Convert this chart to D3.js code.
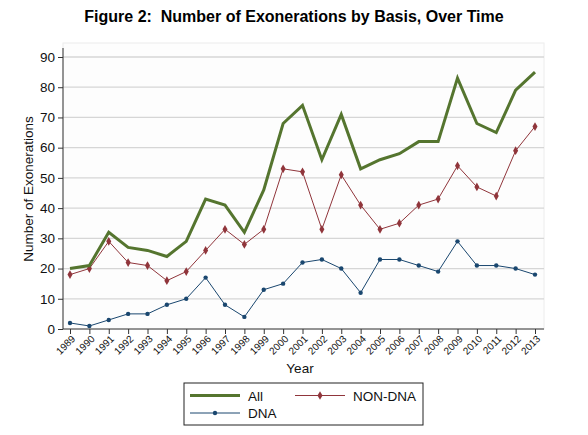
<!DOCTYPE html>
<html>
<head>
<meta charset="utf-8">
<script src="https://cdn.jsdelivr.net/npm/d3@7"></script>
<style>
  body { margin: 0; background: #fff; }
  svg { font-family: "Liberation Sans", Arial, sans-serif; }
</style>
</head>
<body>
<svg id="svg" width="588" height="435"></svg>
<script>
const years = d3.range(1989, 2014);
const allValues = [20, 21, 32, 27, 26, 24, 29, 43, 41, 32, 46, 68, 74, 56, 71, 53, 56, 58, 62, 62, 83, 68, 65, 79, 85];
const nonDnaValues = [18, 20, 29, 22, 21, 16, 19, 26, 33, 28, 33, 53, 52, 33, 51, 41, 33, 35, 41, 43, 54, 47, 44, 59, 67];
const dnaValues = [2, 1, 3, 5, 5, 8, 10, 17, 8, 4, 13, 15, 22, 23, 20, 12, 23, 23, 21, 19, 29, 21, 21, 20, 18];
const yTicks = [0, 10, 20, 30, 40, 50, 60, 70, 80, 90];

const svg = d3.select("#svg");

const plotLeft = 63, plotRight = 544, plotTop = 48, plotBottom = 329;

const xScale = d3.scaleLinear().domain([1989, 2013]).range([70, 535]);
const yScale = d3.scaleLinear().domain([0, 90]).range([329, 57]);

// plot region outline
svg.append("rect")
  .attr("x", plotLeft).attr("y", 43)
  .attr("width", plotRight - plotLeft).attr("height", plotBottom - 43)
  .attr("fill", "#fdfdfd").attr("stroke", "#ececec");

// grid lines
svg.append("g")
  .selectAll("line")
  .data(yTicks.filter(d => d > 0))
  .enter()
  .append("line")
  .attr("x1", plotLeft).attr("x2", plotRight)
  .attr("y1", yScale).attr("y2", yScale)
  .attr("stroke", "#d6d6d6").attr("stroke-width", 1.3);

// y axis
const yAxis = d3.axisLeft(yScale).tickValues(yTicks).tickSize(5).tickPadding(3);
const gy = svg.append("g").attr("transform", `translate(${plotLeft},0)`).call(yAxis);
gy.select(".domain").attr("d", `M0,${plotTop}V${plotBottom}`).attr("stroke", "#333");
gy.selectAll(".tick line").attr("stroke", "#333");
gy.selectAll("text").attr("font-size", 13.5).attr("fill", "#111");

// x axis
const xAxis = d3.axisBottom(xScale).tickValues(years).tickFormat(d3.format("d")).tickSize(5);
const gx = svg.append("g").attr("transform", `translate(0,${plotBottom})`).call(xAxis);
gx.select(".domain").attr("d", `M${plotLeft},0H${plotRight}`).attr("stroke", "#333");
gx.selectAll(".tick line").attr("stroke", "#333");
gx.selectAll("text")
  .attr("font-size", 10)
  .attr("fill", "#111")
  .attr("text-anchor", "end")
  .attr("dy", "0.35em")
  .attr("y", 0)
  .attr("transform", "translate(3,8) rotate(-45)");

// axis titles
svg.append("text")
  .attr("x", 300).attr("y", 373)
  .attr("text-anchor", "middle")
  .attr("font-size", 13.5).attr("fill", "#111")
  .text("Year");

svg.append("text")
  .attr("transform", "translate(33,189) rotate(-90)")
  .attr("text-anchor", "middle")
  .attr("font-size", 13.5).attr("fill", "#111")
  .text("Number of Exonerations");

// title
svg.append("text")
  .attr("x", 294).attr("y", 22)
  .attr("text-anchor", "middle")
  .attr("font-size", 16).attr("font-weight", "bold").attr("fill", "#000")
  .style("white-space", "pre")
  .text("Figure 2:  Number of Exonerations by Basis, Over Time");

const line = d3.line().x((d, i) => xScale(years[i])).y(d => yScale(d));

const green = "#55752f", maroon = "#90353b", navy = "#1a476f";

svg.append("path").datum(dnaValues)
  .attr("d", line).attr("fill", "none").attr("stroke", navy).attr("stroke-width", 1);
svg.append("g").selectAll("circle").data(dnaValues).enter().append("circle")
  .attr("cx", (d, i) => xScale(years[i])).attr("cy", yScale).attr("r", 2.2).attr("fill", navy);

svg.append("path").datum(nonDnaValues)
  .attr("d", line).attr("fill", "none").attr("stroke", maroon).attr("stroke-width", 1);
const diamond = d3.symbol().type(d3.symbolDiamond).size(22);
svg.append("g").selectAll("path").data(nonDnaValues).enter().append("path")
  .attr("d", diamond)
  .attr("transform", (d, i) => `translate(${xScale(years[i])},${yScale(d)})`)
  .attr("fill", maroon);

svg.append("path").datum(allValues)
  .attr("d", line).attr("fill", "none").attr("stroke", green).attr("stroke-width", 3)
  .attr("stroke-linejoin", "miter");

// legend
const lg = svg.append("g");
lg.append("rect").attr("x", 184).attr("y", 383).attr("width", 239).attr("height", 42)
  .attr("fill", "#fff").attr("stroke", "#222").attr("stroke-width", 1);

const legendItems = [
  { name: "All", color: green, width: 3, marker: null, x: 190, y: 395.5 },
  { name: "NON-DNA", color: maroon, width: 1, marker: "diamond", x: 295, y: 395.5 },
  { name: "DNA", color: navy, width: 1, marker: "circle", x: 190, y: 413 }
];
legendItems.forEach(it => {
  lg.append("line").attr("x1", it.x).attr("x2", it.x + 50).attr("y1", it.y).attr("y2", it.y)
    .attr("stroke", it.color).attr("stroke-width", it.width);
  if (it.marker === "diamond") {
    lg.append("path").attr("d", diamond).attr("transform", `translate(${it.x + 25},${it.y})`).attr("fill", it.color);
  } else if (it.marker === "circle") {
    lg.append("circle").attr("cx", it.x + 25).attr("cy", it.y).attr("r", 2.2).attr("fill", it.color);
  }
  lg.append("text").attr("x", it.x + 58).attr("y", it.y + 5)
    .attr("font-size", 13.5).attr("fill", "#111").text(it.name);
});
</script>
</body>
</html>
